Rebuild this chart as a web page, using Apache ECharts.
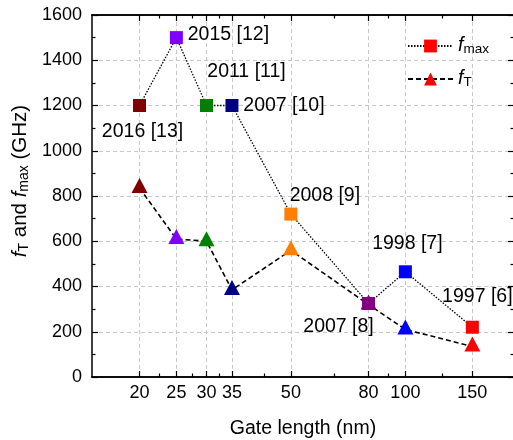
<!DOCTYPE html>
<html>
<head>
<meta charset="utf-8">
<script src="https://cdn.jsdelivr.net/npm/echarts@6/dist/echarts.min.js"></script>
<style>
html, body { margin: 0; padding: 0; background: #fff; }
#chart { width: 513px; height: 440px; }
</style>
</head>
<body>
<div id="chart"></div>
<script>
// data
var gateLength = [20, 25, 30, 35, 50, 80, 100, 150];
var fmaxData = [1200, 1500, 1200, 1200, 720, 325, 465, 220];
var ftData = [835, 610, 600, 385, 560, 320, 210, 135];
var refLabels = ['2016 [13]', '2015 [12]', '2011 [11]', '2007 [10]', '2008 [9]', '2007 [8]', '1998 [7]', '1997 [6]'];
var xMajorTicks = [20, 25, 30, 35, 50, 80, 100, 150];
var xMinorTicks = [22.5, 27.5, 32.5, 42.5, 65, 90, 125];

var pointColors = ['#800000', '#8000ff', '#008000', '#000080', '#ff8000', '#800080', '#0000ff', '#ff0000'];
var labelOffsets = [[3, 26], [52, -3], [40, -34], [52, 0], [34, -18], [-30, 23], [2, -28], [5, -31]];
var FONT = '"Liberation Sans", Arial, sans-serif';

function xAxisDef(pos, ticks, len, main) {
	return {
		type : 'log',
		logBase : 10,
		min : 15,
		max : 193,
		position : pos,
		axisLine : { show : true, onZero : false, lineStyle : { color : '#000', width : 1.5 } },
		axisTick : { show : true, inside : true, length : len, customValues : ticks, lineStyle : { color : '#000', width : 1.2 } },
		minorTick : { show : false },
		minorSplitLine : { show : false },
		axisLabel : { show : main, customValues : ticks, margin : 7, fontSize : 18, color : '#000', fontFamily : FONT },
		splitLine : { show : main, lineStyle : { color : '#c8c8c8', type : [4, 3], width : 1 } },
	};
}

function yAxisDef(pos, main) {
	return {
		type : 'value',
		min : 0,
		max : 1600,
		interval : 200,
		position : pos,
		axisLine : { show : true, onZero : false, lineStyle : { color : '#000', width : 1.5 } },
		axisTick : { show : true, inside : true, length : 6, lineStyle : { color : '#000', width : 1.2 } },
		minorTick : { show : true, splitNumber : 2, length : 3.5, lineStyle : { color : '#000', width : 1.2 } },
		axisLabel : {
			show : main, margin : 10, fontSize : 18, color : '#000', fontFamily : FONT,
			formatter : function (v) { return String(v); },
		},
		splitLine : { show : main, lineStyle : { color : '#c8c8c8', type : [4, 3], width : 1 } },
	};
}

var subRich = {
	i : { fontStyle : 'italic', fontSize : 19.5, fontFamily : FONT, color : '#000', verticalAlign : 'top', lineHeight : 20 },
	n : { fontSize : 19.5, fontFamily : FONT, color : '#000', verticalAlign : 'top', lineHeight : 20 },
	s : { fontSize : 13.5, fontFamily : FONT, color : '#000', verticalAlign : 'bottom', lineHeight : 14, padding : [10, 0, 0, 0] },
};
// axis title a bit larger
var titleRich = {
	i : { fontStyle : 'italic', fontSize : 20.5, fontFamily : FONT, color : '#000', verticalAlign : 'top', lineHeight : 21 },
	n : { fontSize : 20.5, fontFamily : FONT, color : '#000', verticalAlign : 'top', lineHeight : 21 },
	s : { fontSize : 14, fontFamily : FONT, color : '#000', verticalAlign : 'bottom', lineHeight : 14, padding : [11, 0, 0, 0] },
};

var fmaxPoints = [];
var ftPoints = [];
for (var i = 0; i < gateLength.length; i ++) {
	fmaxPoints.push({
		value : [gateLength[i], fmaxData[i]],
		itemStyle : { color : pointColors[i] },
		label : {
			show : true,
			position : 'inside',
			offset : labelOffsets[i],
			formatter : refLabels[i],
			fontSize : 19.5,
			fontFamily : FONT,
			color : '#000',
		},
	});
	ftPoints.push({
		value : [gateLength[i], ftData[i]],
		itemStyle : { color : pointColors[i] },
	});
}

var xMain = xAxisDef('bottom', xMajorTicks, 6, true);
xMain.name = 'Gate length (nm)';
xMain.nameLocation = 'middle';
xMain.nameGap = 42;
xMain.nameTextStyle = { fontSize : 19.5, fontFamily : FONT, color : '#000' };

var yMain = yAxisDef('left', true);
yMain.name = '{i|f}{s|T}{n| and }{i|f}{s|max}{n| (GHz)}';
yMain.nameLocation = 'middle';
yMain.nameRotate = 90;
yMain.nameGap = 57;
yMain.nameTextStyle = { padding : [0, 0, 0, 30], rich : titleRich };

var myChart = echarts.init(document.getElementById('chart'));
myChart.setOption({
	animation : false,
	grid : { left : 92, top : 15, right : -1, bottom : 63, containLabel : false, outerBoundsMode : 'none' },
	legend : {
		data : ['fmax', 'fT'],
		orient : 'vertical',
		left : 402,
		top : 27,
		itemWidth : 45,
		itemHeight : 16,
		itemGap : 9,
		formatter : function (name) {
			return name == 'fmax' ? '{i|f}{s|max}' : '{i|f}{s|T}';
		},
		textStyle : { rich : subRich },
	},
	xAxis : [
		xMain,
		xAxisDef('bottom', xMinorTicks, 3.5, false),
		xAxisDef('top', xMajorTicks, 6, false),
		xAxisDef('top', xMinorTicks, 3.5, false),
	],
	yAxis : [
		yMain,
		yAxisDef('right', false),
	],
	series : [
		{
			name : 'fT',
			type : 'line',
			data : ftPoints,
			symbol : 'triangle',
			symbolSize : [16, 15],
			symbolOffset : [0, -2.5],
			itemStyle : { color : '#ff0000' },
			lineStyle : { color : '#000', width : 1.6, type : [5, 3] },
			emphasis : { disabled : true },
		},
		{
			name : 'fmax',
			type : 'line',
			data : fmaxPoints,
			symbol : 'rect',
			symbolSize : 13,
			itemStyle : { color : '#ff0000' },
			lineStyle : { color : '#000', width : 1.3, type : [1.5, 1.5] },
			emphasis : { disabled : true },
		},
	],
});
</script>
</body>
</html>
